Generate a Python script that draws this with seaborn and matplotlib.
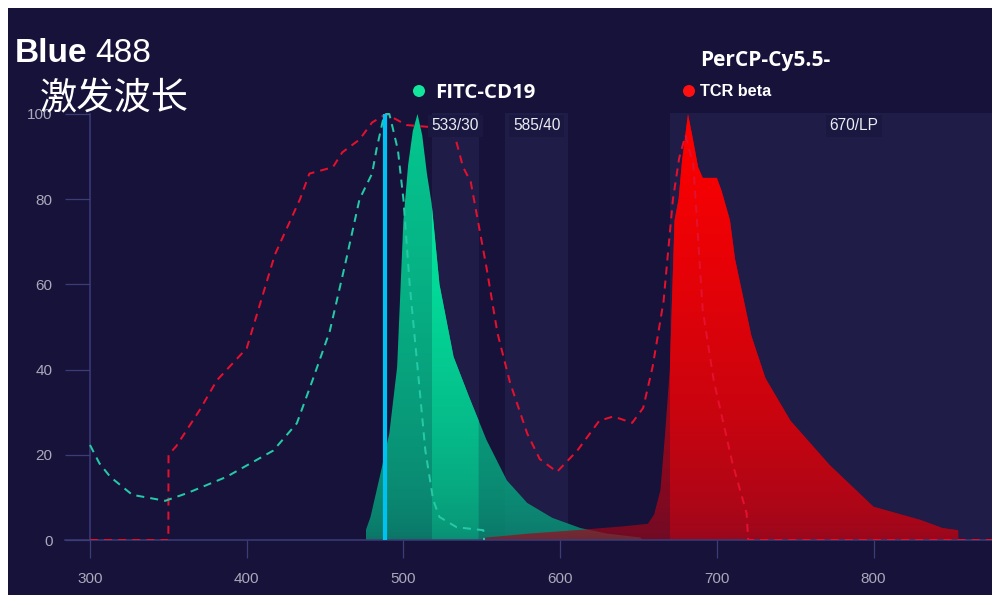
import numpy as np
import pandas as pd
import matplotlib
matplotlib.use("Agg")
import matplotlib.pyplot as plt
import seaborn as sns
from matplotlib.patches import Polygon, Rectangle, Ellipse

# ---- spectra (wavelength in nm, normalised intensity in %) ----
fitc_ex_nm = [300, 306, 313, 327, 348, 362, 387, 417, 432, 442, 453, 463, 472, 480,
              483, 487, 489, 491, 493, 496.5, 500, 504, 509, 514, 519, 523, 534, 551, 551.5]
fitc_ex_val = [22.3, 18, 14.8, 10.6, 9.2, 11, 14.8, 21, 27.4, 37.5, 49, 65, 80, 86,
               92, 98.6, 100, 100, 97, 91.5, 80, 60, 40.6, 21, 9.4, 5.4, 3, 2.3, 0]

percp_ex_nm = [300, 350, 350.1, 355, 370, 381, 400, 418, 434, 440, 455, 461, 472, 480,
               489, 496, 502, 515, 523, 533, 538, 543, 553, 560, 568, 579, 587, 598, 611,
               625, 634, 646, 653, 659, 666, 670, 672, 676, 680, 685, 691, 698, 710, 719,
               720, 720.1, 900]
percp_ex_val = [0, 0, 20, 22, 30.5, 37.5, 45, 67, 80, 86, 87.5, 91, 94, 98,
                100, 98.6, 97.4, 97, 96.7, 94.6, 87.6, 84, 64, 48.6, 37, 25, 19, 16, 21,
                28, 29, 27.5, 31, 40.6, 56, 72, 80, 89.7, 95, 88, 54, 37.5, 18, 6.3,
                0, 0, 0]

fitc_em_nm = [476, 479, 485, 491, 496, 500, 503, 506, 509, 512, 515, 518, 523, 532,
              542, 553, 566, 579, 595, 613, 630, 651, 653]
fitc_em_val = [2.3, 5.4, 15, 25, 40.6, 75, 88, 96, 100, 95, 86, 79, 60, 43,
               33.5, 23.5, 14, 8.7, 5.2, 2.8, 1.5, 0.6, 0]

percp_em_nm = [550, 551, 580, 610, 640, 656, 660, 664, 667, 670, 673, 675.6, 677.8,
               681.6, 684.8, 688, 691, 700, 703, 706.5, 708.4, 711.6, 722, 731, 747,
               772, 800, 830, 844, 854, 854.1]
percp_em_val = [0, 0.5, 1.5, 2.3, 3.2, 3.8, 6, 11.7, 25, 40, 75, 80, 89,
                100, 94, 87.6, 85, 85, 82, 77.5, 75, 66, 48, 38, 28,
                17.6, 7.8, 4.7, 2.8, 2.3, 0]

laser_nm = 488

filter_names = ["533/30", "585/40", "670/LP"]
filter_lo = [518, 565, 670]
filter_hi = [548, 605, 905]

x_ticks = [300, 400, 500, 600, 700, 800]
y_ticks = [0, 20, 40, 60, 80, 100]

# ---- style ----
W, H = 992, 595
BG = "#161239"
BAND = "#1f1c48"
LABEL_BOX = "#1a1741"
AXIS = "#3d3b78"
TICK_TXT = "#a9a9bb"
TEAL_DASH = "#25c9a6"
RED_DASH = "#e3102e"
LASER = "#00c2f2"

sns.set_style("dark", {"axes.facecolor": BG, "figure.facecolor": "white"})
plt.rcParams["font.family"] = ["Liberation Sans", "Noto Sans CJK SC", "DejaVu Sans"]


def fx(px):
    return px / W


def fy(py):
    return 1 - py / H


fig = plt.figure(figsize=(W / 100, H / 100), dpi=100, facecolor="white")
fig.patches.append(Rectangle((fx(8), 0), 1, fy(8), transform=fig.transFigure,
                             facecolor=BG, edgecolor="none", zorder=-10))

ax = fig.add_axes([fx(65), fy(540), fx(992) - fx(65), fy(113) - fy(540)])
ax.set_facecolor("none")
ax.grid(False)
XLIM = (284.05, 875.6)
YLIM = (0, 100.23)

# detector filter bands
for lo, hi in zip(filter_lo, filter_hi):
    ax.axvspan(lo, hi, ymin=0, ymax=1, facecolor=BAND, edgecolor="none", zorder=0.5)


def gradient_area(x, y, top_rgb, bottom_rgb, alpha, zorder, lo=None, hi=None):
    """Area under a spectrum filled with a vertical colour gradient."""
    x = np.asarray(x, float)
    y = np.asarray(y, float)
    if lo is not None:
        keep = (x > lo) & (x < hi)
        xs = np.concatenate([[lo], x[keep], [hi]])
        y = np.interp(xs, x, y, left=0, right=0)
        x = xs
    verts = np.column_stack([np.r_[x[0], x, x[-1]], np.r_[0, y, 0]])
    poly = Polygon(verts, closed=True, facecolor="none", edgecolor="none",
                   transform=ax.transData)
    ax.add_patch(poly)
    t = (np.linspace(0, 1, 256) ** 0.6)[:, None]
    top = np.array(top_rgb) / 255.0
    bot = np.array(bottom_rgb) / 255.0
    img = (bot + (top - bot) * t)[:, None, :]
    im = ax.imshow(img, extent=[x.min(), x.max(), 0, 100], origin="lower",
                   aspect="auto", alpha=alpha, zorder=zorder, interpolation="bilinear")
    im.set_clip_path(poly)


GREEN_TOP, GREEN_BOT = (0, 245, 165), (10, 140, 115)
RED_TOP, RED_BOT = (255, 0, 0), (150, 8, 30)

gradient_area(fitc_em_nm, fitc_em_val, GREEN_TOP, GREEN_BOT, 0.8, 1)
gradient_area(fitc_em_nm, fitc_em_val, GREEN_TOP, GREEN_BOT, 1.0, 1.5,
              lo=filter_lo[0], hi=filter_hi[0])
gradient_area(percp_em_nm, percp_em_val, RED_TOP, RED_BOT, 0.7, 2)
gradient_area(percp_em_nm, percp_em_val, RED_TOP, RED_BOT, 1.0, 2.5,
              lo=filter_lo[2], hi=filter_hi[2])

# excitation spectra (dashed)
ex_fitc = pd.DataFrame({"nm": fitc_ex_nm, "val": fitc_ex_val})
ex_percp = pd.DataFrame({"nm": percp_ex_nm, "val": percp_ex_val})
sns.lineplot(data=ex_percp, x="nm", y="val", ax=ax, color=RED_DASH, lw=1.45,
             linestyle=(0, (4, 3)), sort=False, estimator=None, zorder=4)
sns.lineplot(data=ex_fitc, x="nm", y="val", ax=ax, color=TEAL_DASH, lw=1.45,
             linestyle=(0, (4, 3)), sort=False, estimator=None, zorder=4.2)

# excitation laser
ax.plot([laser_nm, laser_nm], [0, 100], color=LASER, lw=3, zorder=5,
        solid_capstyle="butt")

# filter labels
for name, lo, hi in zip(filter_names, filter_lo, filter_hi):
    ax.text((lo + hi) / 2, 97.2, name, ha="center", va="center", fontsize=11.2,
            color="#ececf4", zorder=8,
            bbox=dict(boxstyle="square,pad=0.25", fc=LABEL_BOX, ec="none"))

# axes
ax.set_xlim(*XLIM)
ax.set_ylim(*YLIM)
ax.set_xlabel("")
ax.set_ylabel("")
ax.set_xticks(x_ticks)
ax.set_yticks(y_ticks)
for s in ["top", "right"]:
    ax.spines[s].set_visible(False)
ax.spines["left"].set_position(("data", 300))
ax.spines["left"].set_bounds(0, 100)
for s in ["left", "bottom"]:
    ax.spines[s].set_visible(True)
    ax.spines[s].set_color(AXIS)
    ax.spines[s].set_linewidth(1.1)
ax.tick_params(axis="y", direction="out", length=18, width=0.9, color=AXIS,
               labelcolor=TICK_TXT, labelsize=11, pad=9, left=True)
ax.tick_params(axis="x", direction="out", length=13, width=0.9, color=AXIS,
               labelcolor=TICK_TXT, labelsize=11, pad=10, bottom=True)

# titles and legend
fig.text(fx(15), fy(62), "Blue", fontsize=24, fontweight="bold", color="white",
         va="baseline", ha="left")
fig.text(fx(95), fy(62), "488", fontsize=24, color="white", va="baseline", ha="left")
fig.text(fx(40), fy(99), "激发波长", fontsize=26.8, color="white", va="center",
         ha="left", family=["Noto Sans CJK SC", "DejaVu Sans"])

fig.add_artist(Ellipse((fx(419), fy(91)), 12 / W, 12 / H, transform=fig.transFigure,
                       facecolor="#12e69c", edgecolor="none"))
fig.text(fx(435), fy(98.5), "FITC-CD19", fontsize=14.7, fontweight="bold",
         color="white", va="baseline", ha="left", family=["Open Sans", "DejaVu Sans"])

fig.text(fx(700), fy(66), "PerCP-Cy5.5-", fontsize=15, fontweight="bold",
         color="white", va="baseline", ha="left", family=["Open Sans", "DejaVu Sans"])
fig.add_artist(Ellipse((fx(689), fy(91)), 12 / W, 12 / H, transform=fig.transFigure,
                       facecolor="#ff1010", edgecolor="none"))
fig.text(fx(700), fy(96), "TCR beta", fontsize=11.7, fontweight="bold",
         color="white", va="baseline", ha="left")

fig.savefig("out.png", dpi=100, facecolor=fig.get_facecolor())
